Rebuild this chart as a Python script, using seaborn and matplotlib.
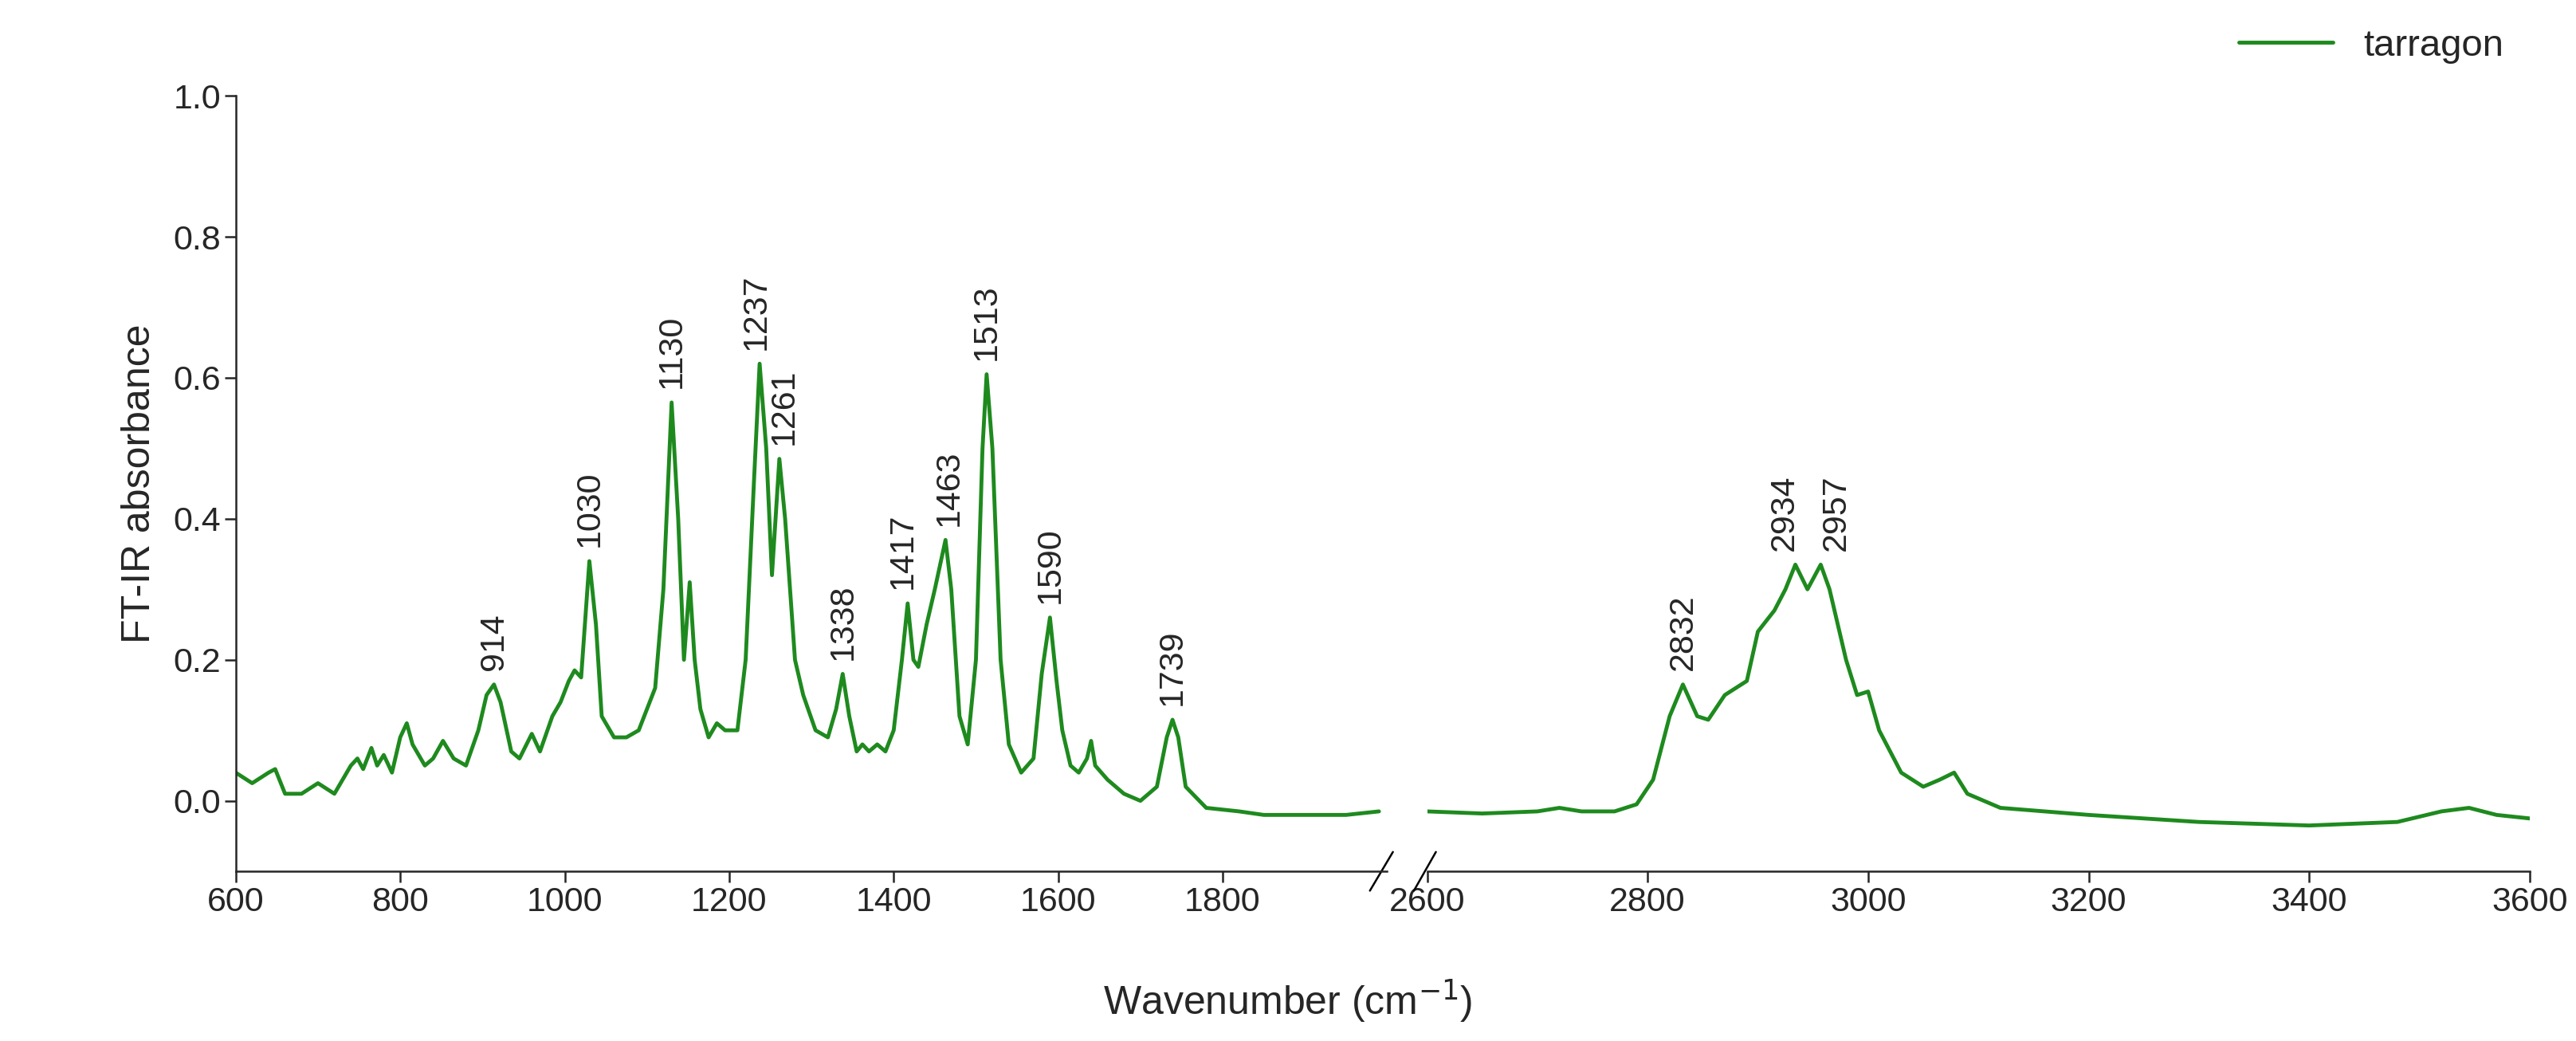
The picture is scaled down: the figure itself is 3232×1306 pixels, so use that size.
import matplotlib
matplotlib.use('Agg')
import matplotlib.pyplot as plt
import seaborn as sns
import pandas as pd

sns.set_style('ticks')
plt.rcParams['font.family'] = ['Arial', 'Liberation Sans', 'DejaVu Sans']

# spectrum, low-wavenumber part
wn_low = [600, 620, 640, 648, 660, 680, 700, 720, 740, 748, 755, 765, 772, 780, 790, 800, 808, 815,
          830, 840, 852, 865, 880, 895, 905, 914, 922, 935, 945, 960, 970, 985, 995, 1005, 1012,
          1020, 1030, 1038, 1045, 1060, 1075, 1090, 1100, 1110, 1120, 1130, 1138, 1145, 1152, 1158,
          1165, 1175, 1185, 1195, 1210, 1220, 1230, 1237, 1245, 1252, 1261, 1268, 1280, 1290, 1305,
          1320, 1330, 1338, 1346, 1355, 1362, 1370, 1380, 1390, 1400, 1410, 1417, 1424, 1430, 1440,
          1450, 1463, 1470, 1480, 1490, 1500, 1508, 1513, 1520, 1530, 1540, 1555, 1570, 1580, 1590,
          1598, 1605, 1615, 1625, 1635, 1640, 1645, 1660, 1680, 1700, 1720, 1732, 1739, 1746, 1755,
          1780, 1820, 1850, 1900, 1950, 1990]
ab_low = [0.04, 0.025, 0.04, 0.045, 0.01, 0.01, 0.025, 0.01, 0.05, 0.06, 0.045, 0.075, 0.05, 0.065, 0.04,
          0.09, 0.11, 0.08, 0.05, 0.06, 0.085, 0.06, 0.05, 0.1, 0.15, 0.165, 0.14, 0.07, 0.06, 0.095,
          0.07, 0.12, 0.14, 0.17, 0.185, 0.175, 0.34, 0.25, 0.12, 0.09, 0.09, 0.1, 0.13, 0.16, 0.3,
          0.565, 0.4, 0.2, 0.31, 0.2, 0.13, 0.09, 0.11, 0.1, 0.1, 0.2, 0.45, 0.62, 0.5, 0.32, 0.485,
          0.4, 0.2, 0.15, 0.1, 0.09, 0.13, 0.18, 0.12, 0.07, 0.08, 0.07, 0.08, 0.07, 0.1, 0.2, 0.28,
          0.2, 0.19, 0.25, 0.3, 0.37, 0.3, 0.12, 0.08, 0.2, 0.5, 0.605, 0.5, 0.2, 0.08, 0.04, 0.06,
          0.18, 0.26, 0.17, 0.1, 0.05, 0.04, 0.06, 0.085, 0.05, 0.03, 0.01, 0.0, 0.02, 0.09, 0.115,
          0.09, 0.02, -0.01, -0.015, -0.02, -0.02, -0.02, -0.015]

# high-wavenumber part
wn_high = [2600, 2650, 2700, 2720, 2740, 2770, 2790, 2805, 2820, 2832, 2845, 2855, 2870, 2880, 2890,
           2900, 2915, 2925, 2934, 2945, 2957, 2965, 2980, 2990, 3000, 3010, 3030, 3050, 3065, 3078,
           3090, 3120, 3200, 3300, 3400, 3480, 3520, 3545, 3570, 3600]
ab_high = [-0.015, -0.018, -0.015, -0.01, -0.015, -0.015, -0.005, 0.03, 0.12, 0.165, 0.12, 0.115, 0.15,
           0.16, 0.17, 0.24, 0.27, 0.3, 0.335, 0.3, 0.335, 0.3, 0.2, 0.15, 0.155, 0.1, 0.04, 0.02,
           0.03, 0.04, 0.01, -0.01, -0.02, -0.03, -0.035, -0.03, -0.015, -0.01, -0.02, -0.025]

peaks_low = [914, 1030, 1130, 1237, 1261, 1338, 1417, 1463, 1513, 1590, 1739]
peaks_high = [2832, 2934, 2957]
label_shift = {1237: -4, 1261: 6, 1417: -6, 1463: 4, 2934: -10, 2957: 14}

green = '#1e8a1e'
fs = 31

df_low = pd.DataFrame({'wn': wn_low, 'ab': ab_low})
df_high = pd.DataFrame({'wn': wn_high, 'ab': ab_high})

fig = plt.figure(figsize=(32.32, 13.06), dpi=100)
ax1 = fig.add_axes([0.0915, 0.163, 0.447, 0.745])
ax2 = fig.add_axes([0.554, 0.163, 0.428, 0.745])

sns.lineplot(data=df_low, x='wn', y='ab', ax=ax1, color=green, lw=3.5, label='tarragon', legend=False)
sns.lineplot(data=df_high, x='wn', y='ab', ax=ax2, color=green, lw=3.5, legend=False)

for ax, df, peaks in [(ax1, df_low, peaks_low), (ax2, df_high, peaks_high)]:
    ax.set_ylim(-0.1, 1.0)
    for p in peaks:
        y = df.loc[(df['wn'] - p).abs().idxmin(), 'ab']
        ax.text(p + label_shift.get(p, 0), y + 0.02, str(p), rotation=90,
                ha='center', va='bottom', fontsize=fs)
    ax.spines['top'].set_visible(False)
    ax.spines['right'].set_visible(False)
    for s in ax.spines.values():
        s.set_linewidth(1.8)
    ax.tick_params(labelsize=fs, width=1.8, length=10)
    ax.set_xlabel('')
    ax.set_ylabel('')

ax1.set_xlim(600, 2000)
ax1.set_xticks([600, 800, 1000, 1200, 1400, 1600, 1800])
ax1.set_yticks([0.0, 0.2, 0.4, 0.6, 0.8, 1.0])
ax1.set_yticklabels(['0.0', '0.2', '0.4', '0.6', '0.8', '1.0'])
ax1.set_ylabel('FT-IR absorbance', fontsize=36, labelpad=14)

ax2.set_xlim(2600, 3600)
ax2.set_xticks([2600, 2800, 3000, 3200, 3400, 3600])
ax2.spines['left'].set_visible(False)
ax2.tick_params(axis='y', left=False, labelleft=False)

# break marks
kw = dict(color='black', lw=1.8, clip_on=False)
ax1.plot([0.985, 1.005], [-0.025, 0.025], transform=ax1.transAxes, **kw)
ax2.plot([-0.012, 0.008], [-0.025, 0.025], transform=ax2.transAxes, **kw)

fig.text(0.5, 0.025, 'Wavenumber (cm$^{-1}$)', ha='center', fontsize=36)
fig.legend(loc='upper right', bbox_to_anchor=(0.985, 1.005), frameon=False, fontsize=34, handlelength=2.5)

fig.savefig('out.png', dpi=100)
